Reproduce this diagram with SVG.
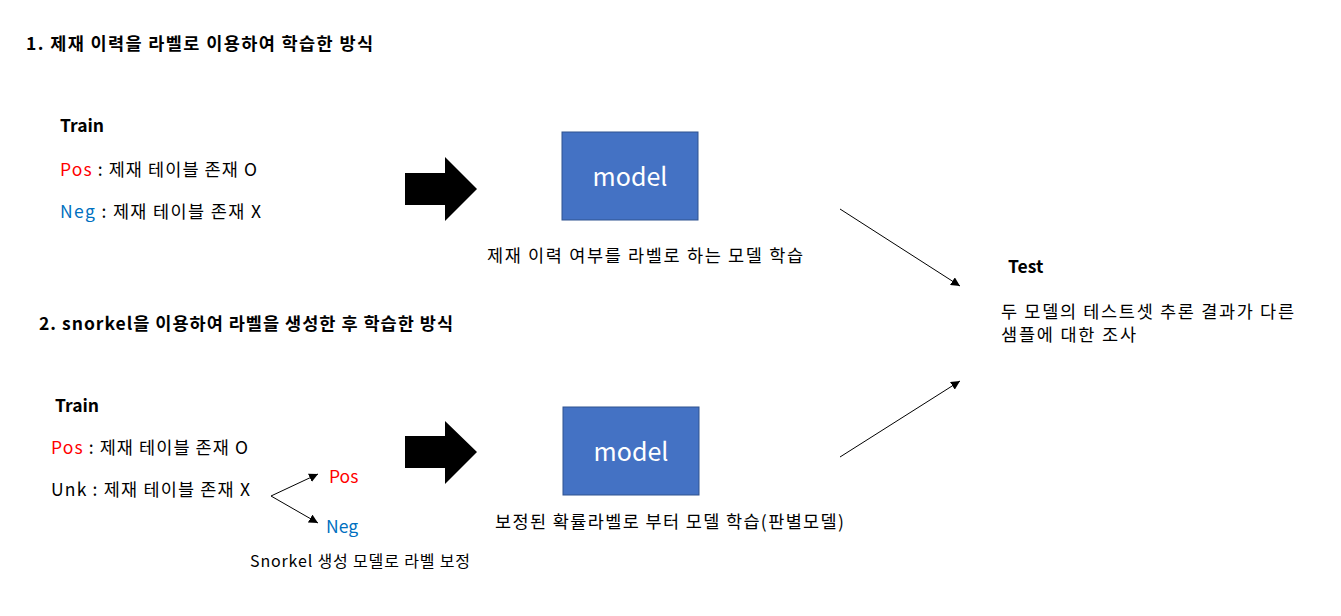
<svg xmlns="http://www.w3.org/2000/svg" width="1341" height="616" viewBox="0 0 1341 616">
<defs>
<marker id="ah" viewBox="0 0 10 10" refX="10" refY="5" markerWidth="9" markerHeight="9" markerUnits="userSpaceOnUse" orient="auto">
<path d="M0,0 L10,5 L0,10 Z" fill="#000"/>
</marker>
<style>
text{font-family:"Noto Sans CJK KR","Noto Sans",sans-serif;fill:#000;}
.h{font-size:17.5px;font-weight:bold;}
.t{font-size:17.5px;}
.s{font-size:16px;}
.pos{fill:#FF0000;}
.neg{fill:#0070C0;}
.box{fill:#4472C4;stroke:#2F528F;stroke-width:1;}
.mt{font-size:25px;fill:#fff;text-anchor:middle;}
.ln{stroke:#000;stroke-width:1;fill:none;marker-end:url(#ah);}
.blk{fill:#000;}
</style>
</defs>
<rect width="1341" height="616" fill="#fff"/>
<g id="title1"><text class="h" x="26" y="50" textLength="347" lengthAdjust="spacing">1. 제재 이력을 라벨로 이용하여 학습한 방식</text></g>
<g id="title2"><text class="h" x="39" y="330" textLength="414" lengthAdjust="spacing">2. snorkel을 이용하여 라벨을 생성한 후 학습한 방식</text></g>
<g id="train1">
<text class="h" x="60" y="132">Train</text>
<text class="t" x="60" y="176" textLength="197" lengthAdjust="spacing"><tspan class="pos">Pos</tspan> : 제재 테이블 존재 O</text>
<text class="t" x="60" y="218" textLength="201" lengthAdjust="spacing"><tspan class="neg">Neg</tspan> : 제재 테이블 존재 X</text>
</g>
<g id="train2">
<text class="h" x="55" y="412">Train</text>
<text class="t" x="51" y="454" textLength="197" lengthAdjust="spacing"><tspan class="pos">Pos</tspan> : 제재 테이블 존재 O</text>
<text class="t" x="51" y="496" textLength="199" lengthAdjust="spacing">Unk : 제재 테이블 존재 X</text>
</g>
<g id="snorkel-pos"><text class="t pos" x="329" y="483">Pos</text></g>
<g id="snorkel-neg"><text class="t neg" x="326" y="533">Neg</text></g>
<g id="snorkel-label"><text class="s" x="250" y="567" textLength="220" lengthAdjust="spacing">Snorkel 생성 모델로 라벨 보정</text></g>
<g id="model1">
<rect class="box" x="562" y="132" width="136" height="88"/>
<text class="mt" x="630" y="186">model</text>
<text class="t" x="487" y="262" textLength="316" lengthAdjust="spacing">제재 이력 여부를 라벨로 하는 모델 학습</text>
</g>
<g id="model2">
<rect class="box" x="563" y="407" width="136" height="88"/>
<text class="mt" x="631" y="461">model</text>
<text class="t" x="495" y="528" textLength="349" lengthAdjust="spacing">보정된 확률라벨로 부터 모델 학습(판별모델)</text>
</g>
<g id="test">
<text class="h" x="1008" y="273">Test</text>
<text class="t" x="1001" y="318" textLength="293" lengthAdjust="spacing">두 모델의 테스트셋 추론 결과가 다른</text>
<text class="t" x="1001" y="341" textLength="135" lengthAdjust="spacing">샘플에 대한 조사</text>
</g>
<g id="connectors">
<path class="blk" d="M405,173 L445,173 L445,157 L477,189 L445,221 L445,205 L405,205 Z"/>
<path class="blk" d="M405,436 L445,436 L445,421 L477,452 L445,484 L445,468 L405,468 Z"/>
<line class="ln" x1="840" y1="209" x2="960" y2="286"/>
<line class="ln" x1="840" y1="457" x2="960" y2="381"/>
<line class="ln" x1="271" y1="496" x2="318" y2="474"/>
<line class="ln" x1="271" y1="496" x2="318" y2="523"/>
</g>
</svg>
